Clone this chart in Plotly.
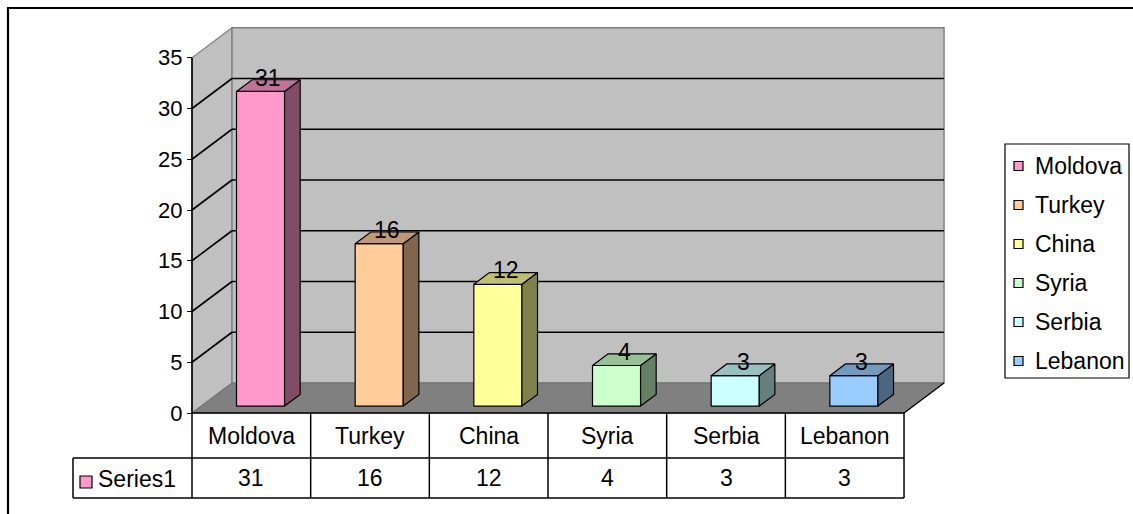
import plotly.graph_objects as go

# ---- data -------------------------------------------------------------
categories = ["Moldova", "Turkey", "China", "Syria", "Serbia", "Lebanon"]
values = [31, 16, 12, 4, 3, 3]
series_name = "Series1"
y_ticks = [0, 5, 10, 15, 20, 25, 30, 35]
front_colors = ["#FF99CC", "#FFCC99", "#FFFF99", "#CCFFCC", "#CCFFFF", "#99CCFF"]

# ---- layout geometry (pixels) ------------------------------------------
W, H = 1133, 514
X0 = 192.0        # left edge of the category band on the front plane
CAT_W = 118.67    # width of one category band
Y0 = 413.0        # value 0 on the front plane
K = 10.15         # pixels per value unit
DEPTH_PX = (40.0, 30.0)   # offset of the back wall (right, up)
Y_MAX = 35
FONT = "Liberation Sans, Arial, sans-serif"
TXT = 23          # table / legend / label text size
TICK_TXT = 22

DXD = DEPTH_PX[0] / CAT_W   # depth offset in category units
DYD = DEPTH_PX[1] / K       # depth offset in value units


def P(x, v, d):
    """project (category x, value v, depth d in 0..1) to axis coordinates"""
    return x + d * DXD, v + d * DYD


def px_x(px):
    return (px - X0) / CAT_W


def px_y(py):
    return (Y0 - py) / K


def path(pts):
    return "M " + " L ".join(f"{x:.5f},{y:.5f}" for x, y in pts) + " Z"


def darker(hexcol, f):
    r, g, b = (int(hexcol[i:i + 2], 16) for i in (1, 3, 5))
    return "#%02X%02X%02X" % (round(r * f), round(g * f), round(b * f))


n = len(categories)
shapes = []
annotations = []

# ---- walls and floor ----------------------------------------------------
wall_fill = "#C0C0C0"
edge_gray = "#808080"
shapes.append(dict(type="path", layer="below", xref="x", yref="y",
                   path=path([P(0, 0, 0), P(0, Y_MAX, 0), P(0, Y_MAX, 1), P(0, 0, 1)]),
                   fillcolor=wall_fill, line=dict(color=edge_gray, width=1.2)))
shapes.append(dict(type="path", layer="below", xref="x", yref="y",
                   path=path([P(0, 0, 1), P(n, 0, 1), P(n, Y_MAX, 1), P(0, Y_MAX, 1)]),
                   fillcolor=wall_fill, line=dict(color=edge_gray, width=1.5)))
shapes.append(dict(type="path", layer="below", xref="x", yref="y",
                   path=path([P(0, 0, 0), P(n, 0, 0), P(n, 0, 1), P(0, 0, 1)]),
                   fillcolor="#808080", line=dict(color="#707070", width=1)))


def seg(a, b, color="black", width=1.6, layer="below"):
    shapes.append(dict(type="line", layer=layer, xref="x", yref="y",
                       x0=a[0], y0=a[1], x1=b[0], y1=b[1],
                       line=dict(color=color, width=width)))


# gridlines on back wall and left wall
for v in y_ticks[1:-1]:
    seg(P(0, v, 1), P(n, v, 1))
    seg(P(0, v, 0), P(0, v, 1))

# floor right edge and front value axis
seg(P(n, 0, 0), P(n, 0, 1), width=1.2)
seg(P(0, 0, 0), P(0, Y_MAX, 0), width=1.6)

# ---- bars ---------------------------------------------------------------
HALF = 0.2025
D0, D1 = 0.23, 0.62
traces = []
traces.append(go.Bar(
    x=[i + 0.5 + D0 * DXD for i in range(n)],
    y=values,
    base=[D0 * DYD] * n,
    width=[2 * HALF] * n,
    marker=dict(color=front_colors, line=dict(color="black", width=1.2)),
    showlegend=False, hoverinfo="skip",
))

for i, (val, col) in enumerate(zip(values, front_colors)):
    xc = i + 0.5
    side = [P(xc + HALF, 0, D0), P(xc + HALF, 0, D1), P(xc + HALF, val, D1), P(xc + HALF, val, D0)]
    top = [P(xc - HALF, val, D0), P(xc + HALF, val, D0), P(xc + HALF, val, D1), P(xc - HALF, val, D1)]
    for face, f in ((side, 0.5), (top, 0.75)):
        xs = [p[0] for p in face] + [face[0][0]]
        ys = [p[1] for p in face] + [face[0][1]]
        traces.append(go.Scatter(x=xs, y=ys, mode="lines", fill="toself",
                                 fillcolor=darker(col, f),
                                 line=dict(color="black", width=1.2),
                                 showlegend=False, hoverinfo="skip"))
    lx, ly = P(xc, val, (D0 + D1) / 2)
    annotations.append(dict(x=lx, y=ly, xref="x", yref="y", text=str(val),
                            showarrow=False, yshift=8,
                            font=dict(family=FONT, size=TXT, color="black")))

# ---- data table -----------------------------------------------------------
T_TOP, T_MID, T_BOT = 413, 458, 498
T_LEFT = 73
seg((px_x(T_LEFT), px_y(T_MID)), (n, px_y(T_MID)), width=1.5, layer="above")
seg((px_x(T_LEFT), px_y(T_BOT)), (n, px_y(T_BOT)), width=1.5, layer="above")
seg((0, px_y(T_TOP)), (n, px_y(T_TOP)), width=1.5, layer="above")
seg((px_x(T_LEFT), px_y(T_MID)), (px_x(T_LEFT), px_y(T_BOT)), width=1.5, layer="above")
for i in range(n + 1):
    seg((i, px_y(T_TOP)), (i, px_y(T_BOT)), width=1.5, layer="above")

for i, (cat, val) in enumerate(zip(categories, values)):
    annotations.append(dict(x=i + 0.5, y=px_y((T_TOP + T_MID) / 2), xref="x", yref="y",
                            text=cat, showarrow=False,
                            font=dict(family=FONT, size=TXT, color="black")))
    annotations.append(dict(x=i + 0.5, y=px_y((T_MID + T_BOT) / 2), xref="x", yref="y",
                            text=str(val), showarrow=False,
                            font=dict(family=FONT, size=TXT, color="black")))

# series key in the table
shapes.append(dict(type="rect", layer="above", xref="x", yref="y",
                   x0=px_x(80), x1=px_x(92), y0=px_y(476), y1=px_y(488),
                   fillcolor=front_colors[0], line=dict(color="black", width=1.2)))
annotations.append(dict(x=px_x(96), y=px_y(479), xref="x", yref="y", text=series_name,
                        showarrow=False, xanchor="left",
                        font=dict(family=FONT, size=TXT, color="black")))

# ---- legend -------------------------------------------------------------
shapes.append(dict(type="rect", layer="above", xref="x", yref="y",
                   x0=px_x(1005), x1=px_x(1129), y0=px_y(144), y1=px_y(378),
                   fillcolor="white", line=dict(color="black", width=1.2)))
for j, (cat, col) in enumerate(zip(categories, front_colors)):
    cy = 166 + 39 * j
    shapes.append(dict(type="rect", layer="above", xref="x", yref="y",
                       x0=px_x(1014), x1=px_x(1023), y0=px_y(cy - 4.5), y1=px_y(cy + 4.5),
                       fillcolor=col, line=dict(color="black", width=1.2)))
    annotations.append(dict(x=px_x(1033), y=px_y(cy), xref="x", yref="y", text=cat,
                            showarrow=False, xanchor="left",
                            font=dict(family=FONT, size=TXT, color="black")))

# ---- outer frame ----------------------------------------------------------
shapes.append(dict(type="rect", layer="above", xref="paper", yref="paper",
                   x0=8 / W, x1=1.02, y0=-0.05, y1=1 - 8 / H,
                   line=dict(color="black", width=2.2)))

fig = go.Figure(traces)
fig.update_layout(
    width=W, height=H, autosize=False,
    margin=dict(l=0, r=0, t=0, b=0, pad=0),
    paper_bgcolor="white", plot_bgcolor="white",
    shapes=shapes, annotations=annotations,
    showlegend=False,
    barmode="overlay",
    xaxis=dict(range=[px_x(0), px_x(W)], visible=False, fixedrange=True),
    yaxis=dict(range=[px_y(H), px_y(0)], anchor="free", position=X0 / W,
               tickvals=y_ticks, ticks="outside", ticklen=5, tickwidth=1.2,
               tickcolor="black", showline=False, showgrid=False, zeroline=False,
               tickfont=dict(family=FONT, size=TICK_TXT, color="black"),
               fixedrange=True),
)

fig.write_html("out.html")
